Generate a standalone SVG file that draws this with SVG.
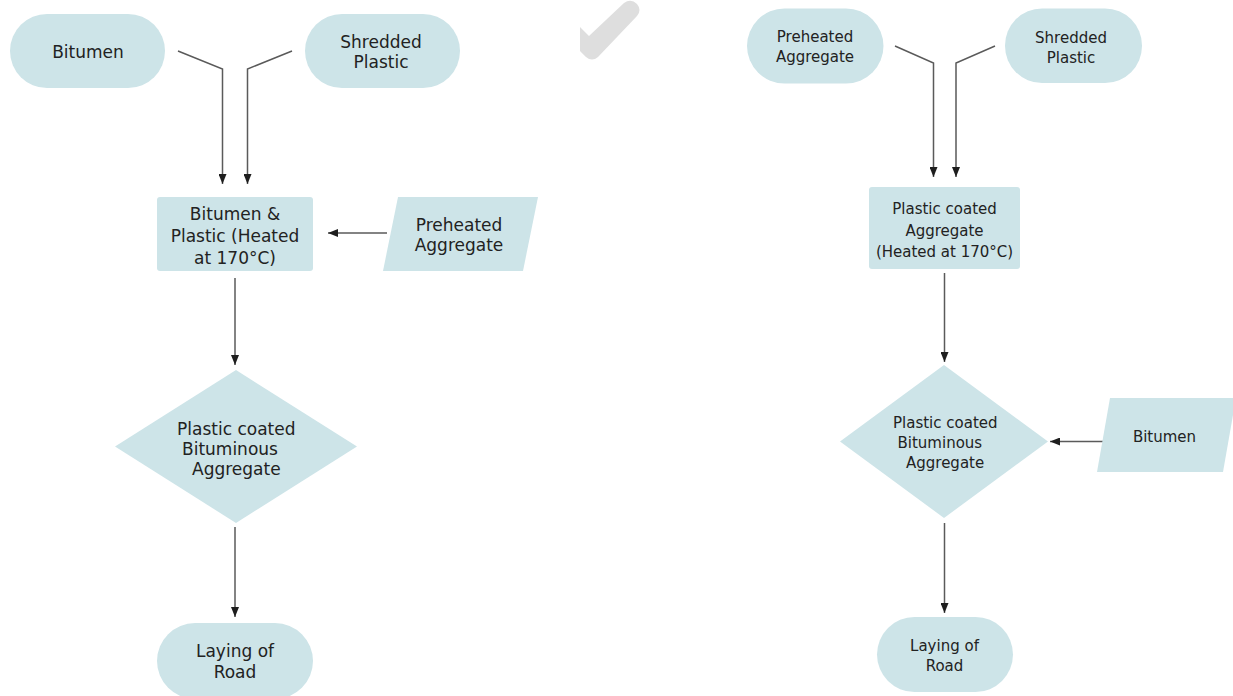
<svg xmlns="http://www.w3.org/2000/svg" width="1233" height="696" viewBox="0 0 1233 696">
  <style>
    .shape { fill: #cde4e8; stroke: none; }
    .t17 { font-family: "DejaVu Sans", Verdana, sans-serif; font-size: 17px; fill: #222; }
    .t15 { font-family: "DejaVu Sans", Verdana, sans-serif; font-size: 15px; fill: #222; }
    .mid { text-anchor: middle; }
    .conn { fill: none; stroke: #5a5a5a; stroke-width: 1.5; marker-end: url(#arrow); }
  </style>
  <defs>
    <marker id="arrow" viewBox="0 0 10 8" refX="10" refY="4" markerWidth="10" markerHeight="8" markerUnits="userSpaceOnUse" orient="auto">
      <path d="M0,0 L10,4 L0,8 z" fill="#1e1e1e"/>
    </marker>
  </defs>
  <rect width="1233" height="696" fill="#ffffff"/>

  <!-- watermark -->
  <path d="M580,27 L589,36 L624,3 Q631,-2 637,4 Q642,10 637,16 L598,57 Q592,62 586,57 L580,51 Z" fill="#dedede"/>

  <g id="connectors">
    <polyline class="conn" points="178,51 222.5,69 222.5,184"/>
    <polyline class="conn" points="292,51 247.5,69 247.5,184"/>
    <line class="conn" x1="387" y1="233" x2="328" y2="233"/>
    <line class="conn" x1="235" y1="278" x2="235" y2="365"/>
    <line class="conn" x1="235" y1="527" x2="235" y2="617"/>
    <polyline class="conn" points="895,46 933.5,63 933.5,177"/>
    <polyline class="conn" points="995,46 956,63 956,177"/>
    <line class="conn" x1="944.5" y1="273" x2="944.5" y2="362"/>
    <line class="conn" x1="1103" y1="441.5" x2="1050" y2="441.5"/>
    <line class="conn" x1="944.5" y1="523" x2="944.5" y2="613"/>
  </g>

  <!-- Left flow -->
  <g id="l-bitumen">
    <rect class="shape" x="10" y="14" width="155" height="74" rx="37"/>
    <text class="t17 mid" x="88" y="58">Bitumen</text>
  </g>
  <g id="l-shredded">
    <rect class="shape" x="305" y="14" width="155" height="74" rx="37"/>
    <text class="t17 mid" x="381" y="48">Shredded</text>
    <text class="t17 mid" x="381" y="68">Plastic</text>
  </g>
  <g id="l-mix">
    <rect class="shape" x="157" y="197" width="156" height="74" rx="3"/>
    <text class="t17 mid" x="235" y="220">Bitumen &amp;</text>
    <text class="t17 mid" x="235" y="242">Plastic (Heated</text>
    <text class="t17 mid" x="235" y="264">at 170°C)</text>
  </g>
  <g id="l-preheated">
    <polygon class="shape" points="398,197 538,197 523,271 383,271"/>
    <text class="t17 mid" x="459" y="231">Preheated</text>
    <text class="t17 mid" x="459" y="251">Aggregate</text>
  </g>
  <g id="l-coated">
    <polygon class="shape" points="236,370 357,446.5 236,523 115,446.5"/>
    <text class="t17" x="177" y="435">Plastic coated</text>
    <text class="t17" x="182" y="455">Bituminous</text>
    <text class="t17" x="192" y="475">Aggregate</text>
  </g>
  <g id="l-road">
    <rect class="shape" x="157" y="623" width="156" height="76" rx="38"/>
    <text class="t17 mid" x="235" y="657">Laying of</text>
    <text class="t17 mid" x="235" y="678">Road</text>
  </g>

  <!-- Right flow -->
  <g id="r-preheated">
    <rect class="shape" x="747" y="8.5" width="136.5" height="75" rx="37.5"/>
    <text class="t15 mid" x="815" y="42">Preheated</text>
    <text class="t15 mid" x="815" y="62">Aggregate</text>
  </g>
  <g id="r-shredded">
    <rect class="shape" x="1005" y="8.5" width="137" height="74.5" rx="37"/>
    <text class="t15 mid" x="1071" y="42.5">Shredded</text>
    <text class="t15 mid" x="1071" y="62.5">Plastic</text>
  </g>
  <g id="r-coatedagg">
    <rect class="shape" x="869" y="187" width="151" height="82" rx="3"/>
    <text class="t15 mid" x="944.5" y="214">Plastic coated</text>
    <text class="t15 mid" x="944.5" y="236">Aggregate</text>
    <text class="t15 mid" x="944.5" y="257">(Heated at 170°C)</text>
  </g>
  <g id="r-coated">
    <polygon class="shape" points="944,365 1048,441.5 944,518 840,441.5"/>
    <text class="t15" x="893" y="428">Plastic coated</text>
    <text class="t15" x="897.5" y="448">Bituminous</text>
    <text class="t15" x="906" y="468">Aggregate</text>
  </g>
  <g id="r-bitumen">
    <polygon class="shape" points="1110,398 1236,398 1223,472 1097,472"/>
    <text class="t15 mid" x="1164.5" y="442">Bitumen</text>
  </g>
  <g id="r-road">
    <rect class="shape" x="877" y="617" width="136" height="75" rx="37.5"/>
    <text class="t15 mid" x="944.5" y="651">Laying of</text>
    <text class="t15 mid" x="944.5" y="671">Road</text>
  </g>
</svg>
